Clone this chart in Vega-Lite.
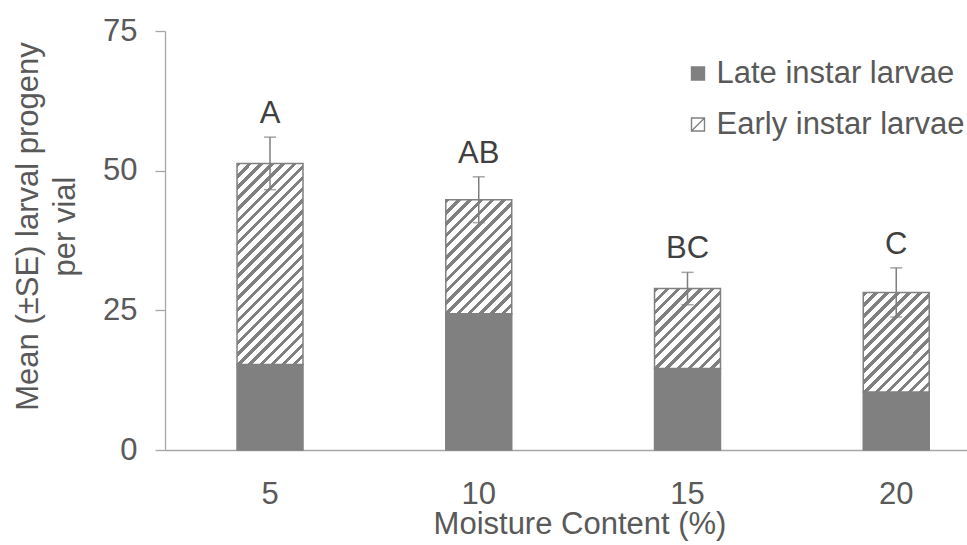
{
  "$schema": "https://vega.github.io/schema/vega-lite/v6.json",
  "width": 802,
  "height": 419,
  "autosize": {"type": "none"},
  "padding": {"left": 165, "top": 31, "right": 0, "bottom": 95},
  "config": {
    "font": "Liberation Sans",
    "view": {"stroke": null},
    "axisX": {
      "labelAngle": 0, "ticks": false, "tickSize": 0,
      "domainColor": "#a6a6a6", "domainWidth": 1.3,
      "labelFontSize": 31, "labelColor": "#595959", "labelPadding": 29,
      "titleFontSize": 31, "titleColor": "#595959",
      "titleFontWeight": "normal", "titlePadding": 0, "titleX": 414.5
    },
    "axisY": {
      "grid": false,
      "tickSize": 10, "tickColor": "#a6a6a6", "tickWidth": 1.3,
      "domainColor": "#a6a6a6", "domainWidth": 1.3,
      "labelFontSize": 31, "labelColor": "#595959", "labelPadding": 18,
      "titleFontSize": 31, "titleColor": "#595959", "titleFontWeight": "normal",
      "titleAngle": -90, "titleX": -137, "titleY": 195, "titleBaseline": "middle",
      "titleAlign": "center", "titleLineHeight": 37
    }
  },
  "datasets": {
    "segments": [
      {"moisture": 5, "stage": "Late instar larvae", "count": 15.3},
      {"moisture": 5, "stage": "Early instar larvae", "count": 36.0},
      {"moisture": 10, "stage": "Late instar larvae", "count": 24.4},
      {"moisture": 10, "stage": "Early instar larvae", "count": 20.4},
      {"moisture": 15, "stage": "Late instar larvae", "count": 14.6},
      {"moisture": 15, "stage": "Early instar larvae", "count": 14.3},
      {"moisture": 20, "stage": "Late instar larvae", "count": 10.4},
      {"moisture": 20, "stage": "Early instar larvae", "count": 17.8}
    ],
    "totals": [
      {"moisture": 5, "lower": 46.6, "upper": 56.0, "letter": "A"},
      {"moisture": 10, "lower": 40.7, "upper": 48.9, "letter": "AB"},
      {"moisture": 15, "lower": 26.0, "upper": 31.8, "letter": "BC"},
      {"moisture": 20, "lower": 23.8, "upper": 32.6, "letter": "C"}
    ]
  },
  "layer": [
    {
      "data": {"name": "segments"},
      "mark": {"type": "bar", "stroke": "#808080", "strokeWidth": 1.5},
      "encoding": {
        "x": {
          "field": "moisture", "type": "ordinal",
          "scale": {"paddingInner": 0.684, "paddingOuter": 0.263, "align": 0.656},
          "title": "Moisture Content (%)"
        },
        "y": {
          "field": "count", "type": "quantitative", "stack": "zero",
          "scale": {"domain": [0, 75], "nice": false},
          "axis": {"values": [0, 25, 50, 75]},
          "title": ["Mean (±SE) larval progeny", "per vial"]
        },
        "order": {"field": "stage", "sort": "descending"},
        "fill": {
          "field": "stage", "type": "nominal",
          "scale": {"domain": ["Late instar larvae", "Early instar larvae"], "range": ["#808080", "#ffffff"]},
          "legend": {
            "orient": "none", "legendX": 517.5, "legendY": 27, "title": null,
            "symbolType": "M-1,-1H1V1H-1Z M-1,1L1,-1", "symbolSize": 169,
            "symbolStrokeColor": "#808080", "symbolStrokeWidth": 1.4,
            "labelFontSize": 31, "labelColor": "#595959", "labelOffset": 3, "labelLimit": 0,
            "rowPadding": 19, "padding": 0,
            "encode": {
              "symbols": {
                "update": {
                  "stroke": {"value": "#808080"},
                  "strokeWidth": {"value": 1.4}
                }
              }
            }
          },
          "condition": [
            {
              "test": "datum.stage === 'Early instar larvae' && datum.moisture === 5",
              "value": {"gradient": "linear", "x1": 0, "y1": 0, "x2": 0.3935, "y2": 1.1991, "stops": [
                {"offset": 0, "color": "gray"}, {"offset": 0.0167, "color": "gray"}, {"offset": 0.0167, "color": "white"}, {"offset": 0.0417, "color": "white"},
                {"offset": 0.0417, "color": "gray"}, {"offset": 0.0583, "color": "gray"}, {"offset": 0.0583, "color": "white"}, {"offset": 0.0833, "color": "white"},
                {"offset": 0.0833, "color": "gray"}, {"offset": 0.1, "color": "gray"}, {"offset": 0.1, "color": "white"}, {"offset": 0.125, "color": "white"},
                {"offset": 0.125, "color": "gray"}, {"offset": 0.1417, "color": "gray"}, {"offset": 0.1417, "color": "white"}, {"offset": 0.1667, "color": "white"},
                {"offset": 0.1667, "color": "gray"}, {"offset": 0.1833, "color": "gray"}, {"offset": 0.1833, "color": "white"}, {"offset": 0.2083, "color": "white"},
                {"offset": 0.2083, "color": "gray"}, {"offset": 0.225, "color": "gray"}, {"offset": 0.225, "color": "white"}, {"offset": 0.25, "color": "white"},
                {"offset": 0.25, "color": "gray"}, {"offset": 0.2667, "color": "gray"}, {"offset": 0.2667, "color": "white"}, {"offset": 0.2917, "color": "white"},
                {"offset": 0.2917, "color": "gray"}, {"offset": 0.3083, "color": "gray"}, {"offset": 0.3083, "color": "white"}, {"offset": 0.3333, "color": "white"},
                {"offset": 0.3333, "color": "gray"}, {"offset": 0.35, "color": "gray"}, {"offset": 0.35, "color": "white"}, {"offset": 0.375, "color": "white"},
                {"offset": 0.375, "color": "gray"}, {"offset": 0.3917, "color": "gray"}, {"offset": 0.3917, "color": "white"}, {"offset": 0.4167, "color": "white"},
                {"offset": 0.4167, "color": "gray"}, {"offset": 0.4333, "color": "gray"}, {"offset": 0.4333, "color": "white"}, {"offset": 0.4583, "color": "white"},
                {"offset": 0.4583, "color": "gray"}, {"offset": 0.475, "color": "gray"}, {"offset": 0.475, "color": "white"}, {"offset": 0.5, "color": "white"},
                {"offset": 0.5, "color": "gray"}, {"offset": 0.5167, "color": "gray"}, {"offset": 0.5167, "color": "white"}, {"offset": 0.5417, "color": "white"},
                {"offset": 0.5417, "color": "gray"}, {"offset": 0.5583, "color": "gray"}, {"offset": 0.5583, "color": "white"}, {"offset": 0.5833, "color": "white"},
                {"offset": 0.5833, "color": "gray"}, {"offset": 0.6, "color": "gray"}, {"offset": 0.6, "color": "white"}, {"offset": 0.625, "color": "white"},
                {"offset": 0.625, "color": "gray"}, {"offset": 0.6417, "color": "gray"}, {"offset": 0.6417, "color": "white"}, {"offset": 0.6667, "color": "white"},
                {"offset": 0.6667, "color": "gray"}, {"offset": 0.6833, "color": "gray"}, {"offset": 0.6833, "color": "white"}, {"offset": 0.7083, "color": "white"},
                {"offset": 0.7083, "color": "gray"}, {"offset": 0.725, "color": "gray"}, {"offset": 0.725, "color": "white"}, {"offset": 0.75, "color": "white"},
                {"offset": 0.75, "color": "gray"}, {"offset": 0.7667, "color": "gray"}, {"offset": 0.7667, "color": "white"}, {"offset": 0.7917, "color": "white"},
                {"offset": 0.7917, "color": "gray"}, {"offset": 0.8083, "color": "gray"}, {"offset": 0.8083, "color": "white"}, {"offset": 0.8333, "color": "white"},
                {"offset": 0.8333, "color": "gray"}, {"offset": 0.85, "color": "gray"}, {"offset": 0.85, "color": "white"}, {"offset": 0.875, "color": "white"},
                {"offset": 0.875, "color": "gray"}, {"offset": 0.8917, "color": "gray"}, {"offset": 0.8917, "color": "white"}, {"offset": 0.9167, "color": "white"},
                {"offset": 0.9167, "color": "gray"}, {"offset": 0.9333, "color": "gray"}, {"offset": 0.9333, "color": "white"}, {"offset": 0.9583, "color": "white"},
                {"offset": 0.9583, "color": "gray"}, {"offset": 0.975, "color": "gray"}, {"offset": 0.975, "color": "white"}, {"offset": 1, "color": "white"}
              ]}
            },
            {
              "test": "datum.stage === 'Early instar larvae' && datum.moisture === 10",
              "value": {"gradient": "linear", "x1": 0, "y1": 0, "x2": 0.6848, "y2": 1.1826, "stops": [
                {"offset": 0, "color": "gray"}, {"offset": 0.025, "color": "gray"}, {"offset": 0.025, "color": "white"}, {"offset": 0.0625, "color": "white"},
                {"offset": 0.0625, "color": "gray"}, {"offset": 0.0875, "color": "gray"}, {"offset": 0.0875, "color": "white"}, {"offset": 0.125, "color": "white"},
                {"offset": 0.125, "color": "gray"}, {"offset": 0.15, "color": "gray"}, {"offset": 0.15, "color": "white"}, {"offset": 0.1875, "color": "white"},
                {"offset": 0.1875, "color": "gray"}, {"offset": 0.2125, "color": "gray"}, {"offset": 0.2125, "color": "white"}, {"offset": 0.25, "color": "white"},
                {"offset": 0.25, "color": "gray"}, {"offset": 0.275, "color": "gray"}, {"offset": 0.275, "color": "white"}, {"offset": 0.3125, "color": "white"},
                {"offset": 0.3125, "color": "gray"}, {"offset": 0.3375, "color": "gray"}, {"offset": 0.3375, "color": "white"}, {"offset": 0.375, "color": "white"},
                {"offset": 0.375, "color": "gray"}, {"offset": 0.4, "color": "gray"}, {"offset": 0.4, "color": "white"}, {"offset": 0.4375, "color": "white"},
                {"offset": 0.4375, "color": "gray"}, {"offset": 0.4625, "color": "gray"}, {"offset": 0.4625, "color": "white"}, {"offset": 0.5, "color": "white"},
                {"offset": 0.5, "color": "gray"}, {"offset": 0.525, "color": "gray"}, {"offset": 0.525, "color": "white"}, {"offset": 0.5625, "color": "white"},
                {"offset": 0.5625, "color": "gray"}, {"offset": 0.5875, "color": "gray"}, {"offset": 0.5875, "color": "white"}, {"offset": 0.625, "color": "white"},
                {"offset": 0.625, "color": "gray"}, {"offset": 0.65, "color": "gray"}, {"offset": 0.65, "color": "white"}, {"offset": 0.6875, "color": "white"},
                {"offset": 0.6875, "color": "gray"}, {"offset": 0.7125, "color": "gray"}, {"offset": 0.7125, "color": "white"}, {"offset": 0.75, "color": "white"},
                {"offset": 0.75, "color": "gray"}, {"offset": 0.775, "color": "gray"}, {"offset": 0.775, "color": "white"}, {"offset": 0.8125, "color": "white"},
                {"offset": 0.8125, "color": "gray"}, {"offset": 0.8375, "color": "gray"}, {"offset": 0.8375, "color": "white"}, {"offset": 0.875, "color": "white"},
                {"offset": 0.875, "color": "gray"}, {"offset": 0.9, "color": "gray"}, {"offset": 0.9, "color": "white"}, {"offset": 0.9375, "color": "white"},
                {"offset": 0.9375, "color": "gray"}, {"offset": 0.9625, "color": "gray"}, {"offset": 0.9625, "color": "white"}, {"offset": 1, "color": "white"}
              ]}
            },
            {
              "test": "datum.stage === 'Early instar larvae' && datum.moisture === 15",
              "value": {"gradient": "linear", "x1": 0, "y1": 0, "x2": 0.8967, "y2": 1.0854, "stops": [
                {"offset": 0, "color": "gray"}, {"offset": 0.0308, "color": "gray"}, {"offset": 0.0308, "color": "white"}, {"offset": 0.0769, "color": "white"},
                {"offset": 0.0769, "color": "gray"}, {"offset": 0.1077, "color": "gray"}, {"offset": 0.1077, "color": "white"}, {"offset": 0.1538, "color": "white"},
                {"offset": 0.1538, "color": "gray"}, {"offset": 0.1846, "color": "gray"}, {"offset": 0.1846, "color": "white"}, {"offset": 0.2308, "color": "white"},
                {"offset": 0.2308, "color": "gray"}, {"offset": 0.2615, "color": "gray"}, {"offset": 0.2615, "color": "white"}, {"offset": 0.3077, "color": "white"},
                {"offset": 0.3077, "color": "gray"}, {"offset": 0.3385, "color": "gray"}, {"offset": 0.3385, "color": "white"}, {"offset": 0.3846, "color": "white"},
                {"offset": 0.3846, "color": "gray"}, {"offset": 0.4154, "color": "gray"}, {"offset": 0.4154, "color": "white"}, {"offset": 0.4615, "color": "white"},
                {"offset": 0.4615, "color": "gray"}, {"offset": 0.4923, "color": "gray"}, {"offset": 0.4923, "color": "white"}, {"offset": 0.5385, "color": "white"},
                {"offset": 0.5385, "color": "gray"}, {"offset": 0.5692, "color": "gray"}, {"offset": 0.5692, "color": "white"}, {"offset": 0.6154, "color": "white"},
                {"offset": 0.6154, "color": "gray"}, {"offset": 0.6462, "color": "gray"}, {"offset": 0.6462, "color": "white"}, {"offset": 0.6923, "color": "white"},
                {"offset": 0.6923, "color": "gray"}, {"offset": 0.7231, "color": "gray"}, {"offset": 0.7231, "color": "white"}, {"offset": 0.7692, "color": "white"},
                {"offset": 0.7692, "color": "gray"}, {"offset": 0.8, "color": "gray"}, {"offset": 0.8, "color": "white"}, {"offset": 0.8462, "color": "white"},
                {"offset": 0.8462, "color": "gray"}, {"offset": 0.8769, "color": "gray"}, {"offset": 0.8769, "color": "white"}, {"offset": 0.9231, "color": "white"},
                {"offset": 0.9231, "color": "gray"}, {"offset": 0.9538, "color": "gray"}, {"offset": 0.9538, "color": "white"}, {"offset": 1, "color": "white"}
              ]}
            },
            {
              "test": "datum.stage === 'Early instar larvae' && datum.moisture === 20",
              "value": {"gradient": "linear", "x1": 0, "y1": 0, "x2": 0.7666, "y2": 1.155, "stops": [
                {"offset": 0, "color": "gray"}, {"offset": 0.0267, "color": "gray"}, {"offset": 0.0267, "color": "white"}, {"offset": 0.0667, "color": "white"},
                {"offset": 0.0667, "color": "gray"}, {"offset": 0.0933, "color": "gray"}, {"offset": 0.0933, "color": "white"}, {"offset": 0.1333, "color": "white"},
                {"offset": 0.1333, "color": "gray"}, {"offset": 0.16, "color": "gray"}, {"offset": 0.16, "color": "white"}, {"offset": 0.2, "color": "white"},
                {"offset": 0.2, "color": "gray"}, {"offset": 0.2267, "color": "gray"}, {"offset": 0.2267, "color": "white"}, {"offset": 0.2667, "color": "white"},
                {"offset": 0.2667, "color": "gray"}, {"offset": 0.2933, "color": "gray"}, {"offset": 0.2933, "color": "white"}, {"offset": 0.3333, "color": "white"},
                {"offset": 0.3333, "color": "gray"}, {"offset": 0.36, "color": "gray"}, {"offset": 0.36, "color": "white"}, {"offset": 0.4, "color": "white"},
                {"offset": 0.4, "color": "gray"}, {"offset": 0.4267, "color": "gray"}, {"offset": 0.4267, "color": "white"}, {"offset": 0.4667, "color": "white"},
                {"offset": 0.4667, "color": "gray"}, {"offset": 0.4933, "color": "gray"}, {"offset": 0.4933, "color": "white"}, {"offset": 0.5333, "color": "white"},
                {"offset": 0.5333, "color": "gray"}, {"offset": 0.56, "color": "gray"}, {"offset": 0.56, "color": "white"}, {"offset": 0.6, "color": "white"},
                {"offset": 0.6, "color": "gray"}, {"offset": 0.6267, "color": "gray"}, {"offset": 0.6267, "color": "white"}, {"offset": 0.6667, "color": "white"},
                {"offset": 0.6667, "color": "gray"}, {"offset": 0.6933, "color": "gray"}, {"offset": 0.6933, "color": "white"}, {"offset": 0.7333, "color": "white"},
                {"offset": 0.7333, "color": "gray"}, {"offset": 0.76, "color": "gray"}, {"offset": 0.76, "color": "white"}, {"offset": 0.8, "color": "white"},
                {"offset": 0.8, "color": "gray"}, {"offset": 0.8267, "color": "gray"}, {"offset": 0.8267, "color": "white"}, {"offset": 0.8667, "color": "white"},
                {"offset": 0.8667, "color": "gray"}, {"offset": 0.8933, "color": "gray"}, {"offset": 0.8933, "color": "white"}, {"offset": 0.9333, "color": "white"},
                {"offset": 0.9333, "color": "gray"}, {"offset": 0.96, "color": "gray"}, {"offset": 0.96, "color": "white"}, {"offset": 1, "color": "white"}
              ]}
            }
          ]
        }
      }
    },
    {
      "data": {"name": "totals"},
      "mark": {"type": "errorbar", "ticks": {"size": 12, "color": "#7f7f7f", "strokeWidth": 1.5}, "color": "#7f7f7f", "thickness": 1.5},
      "encoding": {
        "x": {"field": "moisture", "type": "ordinal", "title": "Moisture Content (%)"},
        "y": {"field": "lower", "type": "quantitative", "axis": {"values": [0, 25, 50, 75]}, "title": ["Mean (±SE) larval progeny", "per vial"]},
        "y2": {"field": "upper"}
      }
    },
    {
      "data": {"name": "totals"},
      "mark": {"type": "text", "fontSize": 31, "color": "#404040", "baseline": "alphabetic", "dy": -14},
      "encoding": {
        "x": {"field": "moisture", "type": "ordinal", "title": "Moisture Content (%)"},
        "y": {"field": "upper", "type": "quantitative", "axis": {"values": [0, 25, 50, 75]}, "title": ["Mean (±SE) larval progeny", "per vial"]},
        "text": {"field": "letter"}
      }
    }
  ]
}
